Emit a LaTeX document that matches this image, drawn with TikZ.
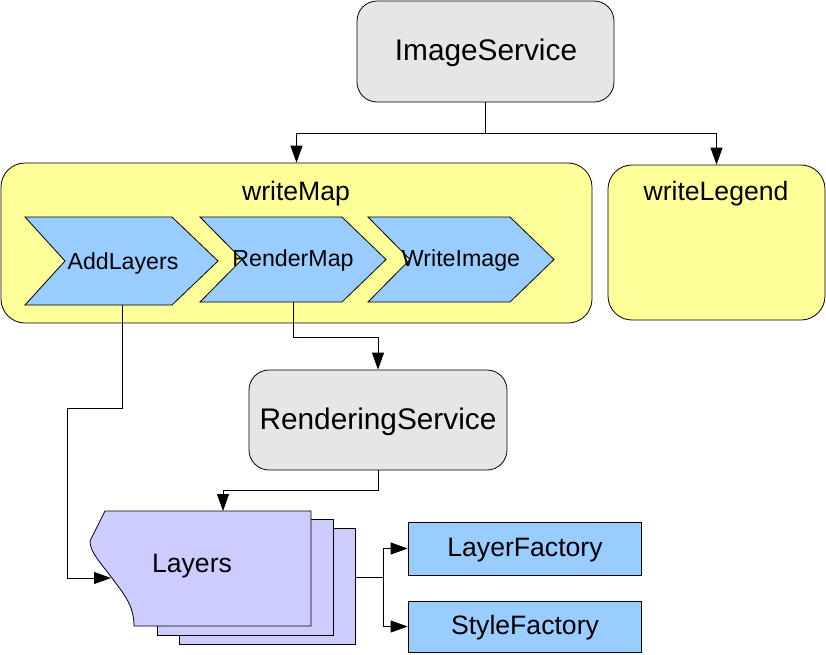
\documentclass[tikz,border=0pt]{standalone}
\usepackage{fontspec}
\setmainfont{Liberation Sans}
\usetikzlibrary{arrows.meta}
\definecolor{grayfill}{HTML}{E6E6E6}
\definecolor{yellowfill}{HTML}{FFFF99}
\definecolor{bluefill}{HTML}{99CCFF}
\definecolor{lavfill}{HTML}{CCCCFF}
\tikzset{
  svc/.style={draw, fill=grayfill, rounded corners=20pt, inner sep=0pt, font=\fontsize{29.8}{34}\selectfont},
  grp/.style={draw, fill=yellowfill, rounded corners=24pt, inner sep=0pt},
  grptitle/.style={font=\fontsize{26.6}{30}\selectfont, inner sep=0pt},
  chev/.style={draw, fill=bluefill},
  chevtext/.style={font=\fontsize{23.2}{26}\selectfont, inner sep=0pt},
  fact/.style={draw, fill=bluefill, inner sep=0pt, font=\fontsize{26.5}{30}\selectfont},
  page/.style={draw, fill=lavfill},
  conn/.style={draw, line width=0.8pt},
  arr/.style={conn, -{Triangle[length=17pt,width=12pt]}},
  lbl/.style={inner sep=0pt, font=\fontsize{29.8}{34}\selectfont},
}
\begin{document}
\begin{tikzpicture}[x=1pt,y=-1pt,line width=0.8pt]
\useasboundingbox (0,0) rectangle (826,654);
% services
\node[svc, minimum width=257pt, minimum height=101pt] (img) at (485.5,51.5) {};
\node[lbl] (imgt) at (486,53) {ImageService};
\node[grp, minimum width=591pt, minimum height=160pt] (wm) at (296.5,243) {};
\node[grptitle] (wmt) at (296,194) {writeMap};
\node[grp, minimum width=217pt, minimum height=155pt] (wl) at (716.5,242.5) {};
\node[grptitle] (wlt) at (716,194) {writeLegend};
% chevrons
\draw[chev] (25,217) -- (172,217) -- (218,261) -- (172,305) -- (25,305) -- (65,261) -- cycle;
\node[chevtext] (addl) at (123,263) {AddLayers};
\coordinate (addlb) at (122,305);
\draw[chev] (200,217) -- (342,217) -- (386,259.5) -- (342,302) -- (200,302) -- (242,259.5) -- cycle;
\node[chevtext] (rmap) at (293,260) {RenderMap};
\coordinate (rmapb) at (293,302);
\draw[chev] (368,217) -- (510,217) -- (554,259.5) -- (510,302) -- (368,302) -- (410,259.5) -- cycle;
\node[chevtext] (wimg) at (461,260) {WriteImage};
% rendering service
\node[svc, minimum width=258pt, minimum height=100pt] (rs) at (378,420) {};
\node[lbl] (rst) at (378,421.5) {RenderingService};
% layers stack
\draw[page] (179,528) rectangle (355,644);
\draw[page] (157,519) rectangle (333,635);
\draw[page] (105,511) -- (311,511) -- (311,626) -- (134,626)
  .. controls (134,604) and (122,592) .. (112,578)
  .. controls (100,562) and (90,552) .. (90,541) -- cycle;
\node[grptitle] (layers) at (192,566) {Layers};
\coordinate (laytop) at (223,511);
\coordinate (layleft) at (111,578);
\coordinate (layright) at (355,577);
% factories
\node[fact, minimum width=233pt, minimum height=53pt] (lf) at (524.5,548.5) {};
\node[grptitle] (lft) at (525,550) {LayerFactory};
\node[fact, minimum width=233pt, minimum height=51pt] (sf) at (524.5,626.5) {};
\node[grptitle] (sft) at (525,628) {StyleFactory};
% connectors
\coordinate (j1) at (485.5,133);
\draw[conn] (img.south) -- (j1);
\draw[arr] (j1) -| (wm.north);
\draw[arr] (j1) -| (wl.north);
\coordinate (j2) at (122,408);
\coordinate (j3) at (67,408);
\draw[arr] (addlb) -- (j2) -- (j3) |- (layleft);
\coordinate (j4) at (293,337);
\draw[arr] (rmapb) -- (j4) -| (rs.north);
\coordinate (j5) at (378,490);
\draw[arr] (rs.south) -- (j5) -| (laytop);
\coordinate (j6) at (383,577);
\draw[conn] (layright) -- (j6);
\draw[arr] (j6) |- (lf.west);
\draw[arr] (j6) |- (sf.west);
\end{tikzpicture}
\end{document}
